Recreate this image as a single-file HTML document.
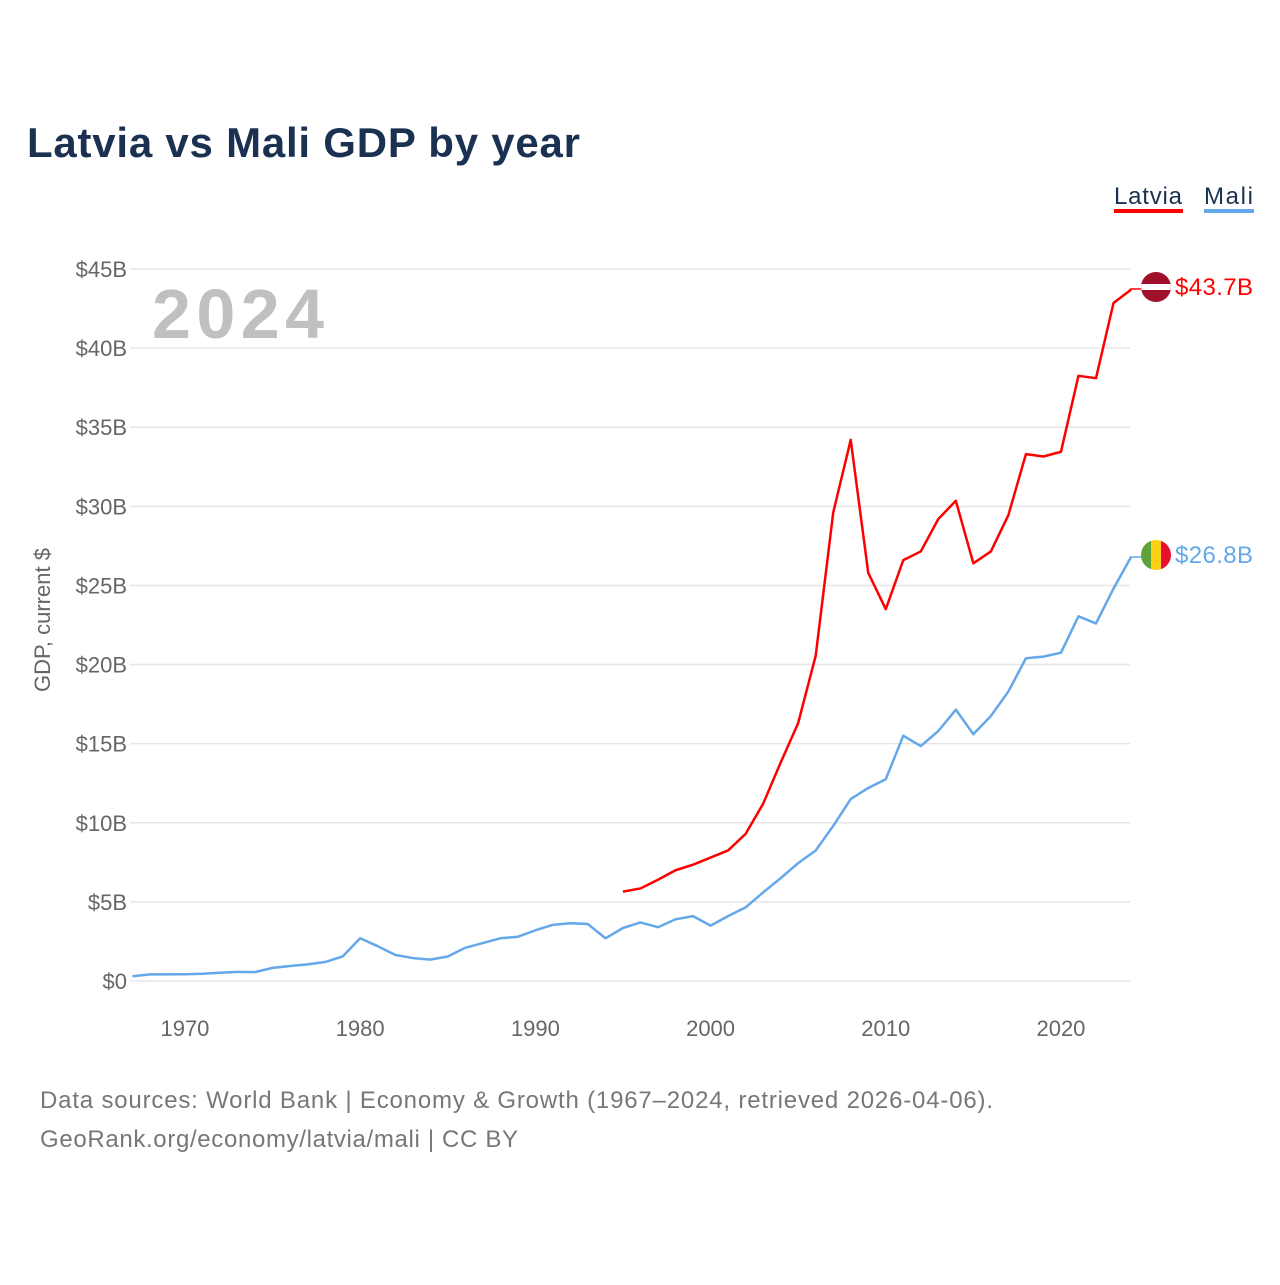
<!DOCTYPE html>
<html><head><meta charset="utf-8"><style>
body{margin:0;background:#fff;font-family:"Liberation Sans",sans-serif}
svg text{font-family:"Liberation Sans",sans-serif}
</style></head><body>
<svg width="1280" height="1280" viewBox="0 0 1280 1280">
<text x="27" y="157" font-size="42" font-weight="bold" fill="#1b3152" textLength="553">Latvia vs Mali GDP by year</text>
<g>
<text x="1114" y="204" font-size="24" fill="#1b3152" textLength="68">Latvia</text>
<rect x="1114" y="209" width="69" height="4" fill="#ff0000"/>
<text x="1204" y="204" font-size="24" fill="#1b3152" textLength="49">Mali</text>
<rect x="1204" y="209" width="50" height="4" fill="#64a8ea"/>
</g>
<g id="grid"></g>
<text x="152" y="338" font-size="70" font-weight="bold" fill="#c0c0c0" textLength="172">2024</text>
<text transform="translate(50,620) rotate(-90)" text-anchor="middle" font-size="22" fill="#666">GDP, current $</text>
<g id="series"></g>
<line x1="1130" y1="289" x2="1142" y2="289" stroke="#ff0000" stroke-width="1.5"/>
<line x1="1130" y1="557" x2="1142" y2="557" stroke="#64a8ea" stroke-width="1.5"/>
<g>
<clipPath id="cl"><circle cx="1156" cy="287" r="15"/></clipPath>
<g clip-path="url(#cl)"><rect x="1140" y="271" width="32" height="32" fill="#a0102a"/><rect x="1140" y="284" width="32" height="6" fill="#fff"/></g>
<text x="1175" y="295" font-size="24" fill="#ff0000" textLength="78">$43.7B</text>
</g>
<g>
<clipPath id="cm"><circle cx="1156" cy="555" r="15"/></clipPath>
<g clip-path="url(#cm)"><rect x="1140" y="539" width="11" height="32" fill="#5ea33a"/><rect x="1151" y="539" width="10" height="32" fill="#fcd116"/><rect x="1161" y="539" width="12" height="32" fill="#e8112d"/></g>
<text x="1175" y="563" font-size="24" fill="#64a8ea" textLength="78">$26.8B</text>
</g>
<text x="40" y="1108" font-size="24" fill="#777" textLength="953">Data sources: World Bank | Economy &amp; Growth (1967–2024, retrieved 2026-04-06).</text>
<text x="40" y="1147" font-size="24" fill="#777" textLength="478">GeoRank.org/economy/latvia/mali | CC BY</text>
</svg>
<script>
const yTicks=[0,5,10,15,20,25,30,35,40,45];
const xTicks=[1970,1980,1990,2000,2010,2020];
const maliYears=[];for(let y=1967;y<=2024;y++)maliYears.push(y);
const maliValues=[0.3,0.42,0.42,0.43,0.46,0.52,0.58,0.56,0.83,0.95,1.05,1.2,1.55,2.7,2.2,1.65,1.45,1.35,1.55,2.1,2.4,2.7,2.8,3.2,3.55,3.65,3.6,2.7,3.35,3.7,3.4,3.9,4.1,3.5,4.1,4.65,5.6,6.5,7.45,8.25,9.8,11.5,12.2,12.75,15.5,14.85,15.8,17.15,15.6,16.75,18.3,20.4,20.5,20.75,23.05,22.6,24.8,26.8];
const latviaYears=[];for(let y=1995;y<=2024;y++)latviaYears.push(y);
const latviaValues=[5.65,5.85,6.4,7.0,7.35,7.8,8.25,9.3,11.2,13.8,16.3,20.55,29.6,34.2,25.8,23.5,26.6,27.15,29.2,30.35,26.4,27.15,29.45,33.3,33.15,33.45,38.25,38.1,42.85,43.7];
const NS='http://www.w3.org/2000/svg';
const xS=y=>132.4+(y-1967)*17.52;
const yS=v=>981-v*15.822;
const grid=document.getElementById('grid');
yTicks.forEach(t=>{
 const l=document.createElementNS(NS,'line');
 l.setAttribute('x1',130);l.setAttribute('x2',1130);l.setAttribute('y1',yS(t));l.setAttribute('y2',yS(t));
 l.setAttribute('stroke','#e6e6e6');l.setAttribute('stroke-width','1.5');
 
 
 grid.appendChild(l);
 const tx=document.createElementNS(NS,'text');
 tx.setAttribute('x',127);tx.setAttribute('y',yS(t)+8);tx.setAttribute('text-anchor','end');
 tx.setAttribute('font-size','22');tx.setAttribute('fill','#666');
 tx.textContent='$'+t+(t?'B':'');
 
 
 grid.appendChild(tx);
});
xTicks.forEach(t=>{
 const tx=document.createElementNS(NS,'text');
 tx.setAttribute('x',xS(t));tx.setAttribute('y',1036);tx.setAttribute('text-anchor','middle');
 tx.setAttribute('font-size','22');tx.setAttribute('fill','#666');
 tx.textContent=t;
 
 
 grid.appendChild(tx);
});
const series=document.getElementById('series');
function line(xs,vs,color,name){
 const p=document.createElementNS(NS,'polyline');
 p.setAttribute('points',xs.map((x,i)=>xS(x)+','+yS(vs[i])).join(' '));
 p.setAttribute('fill','none');p.setAttribute('stroke',color);p.setAttribute('stroke-width','2.5');
 p.setAttribute('stroke-linejoin','round');
 
 
 series.appendChild(p);
}
line(maliYears,maliValues,'#64a8ea','mali-line');
line(latviaYears,latviaValues,'#ff0000','latvia-line');
</script>
</body></html>
